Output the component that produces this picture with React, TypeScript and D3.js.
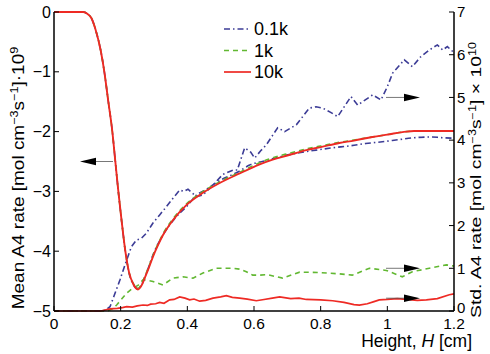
import React from "react";
import * as d3 from "d3";

// ---- data (x in cm) ----
const xTicks = [0, 0.2, 0.4, 0.6, 0.8, 1, 1.2];
const xTickLabels = ["0", "0.2", "0.4", "0.6", "0.8", "1", "1.2"];
const leftTicks = [0, -1, -2, -3, -4, -5];
const leftTickLabels = ["0", "\u22121", "\u22122", "\u22123", "\u22124", "\u22125"];
const rightTicks = [0, 1, 2, 3, 4, 5, 6, 7];
const rightTickLabels = ["0", "1", "2", "3", "4", "5", "6", "7"];
const legendLabels = ["0.1k", "1k", "10k"];

// Mean curves (left axis)
const meanRed: [number, number][] = [
  [0, 0], [0.05, 0], [0.088, 0], [0.1, -0.03], [0.112, -0.1], [0.125, -0.3], [0.14, -0.64],
  [0.151, -1.0], [0.163, -1.5], [0.175, -2.0], [0.184, -2.5], [0.193, -3.0], [0.203, -3.5],
  [0.214, -4.0], [0.225, -4.35], [0.237, -4.54], [0.252, -4.64], [0.262, -4.58], [0.272, -4.45],
  [0.285, -4.27], [0.297, -4.09], [0.312, -3.9], [0.327, -3.73], [0.357, -3.48], [0.397, -3.23],
  [0.437, -3.06], [0.497, -2.86], [0.557, -2.7], [0.617, -2.55], [0.656, -2.47], [0.7, -2.4],
  [0.757, -2.31], [0.8, -2.26], [0.856, -2.19], [0.9, -2.15], [0.955, -2.09], [1.0, -2.05],
  [1.057, -2.0], [1.08, -1.99], [1.2, -1.99],
];
const meanGreen: [number, number][] = [
  [0, 0], [0.05, 0], [0.088, 0], [0.1, -0.03], [0.112, -0.1], [0.125, -0.3], [0.14, -0.64],
  [0.151, -1.0], [0.163, -1.5], [0.175, -2.0], [0.184, -2.5], [0.193, -3.0], [0.203, -3.5],
  [0.214, -4.0], [0.225, -4.35], [0.237, -4.53], [0.252, -4.62], [0.262, -4.56], [0.272, -4.43],
  [0.285, -4.25], [0.297, -4.07], [0.312, -3.88], [0.327, -3.71], [0.357, -3.46], [0.397, -3.21],
  [0.437, -3.04], [0.497, -2.84], [0.557, -2.68], [0.617, -2.52], [0.656, -2.44], [0.7, -2.37],
  [0.757, -2.29], [0.8, -2.24], [0.856, -2.18], [0.9, -2.14], [0.955, -2.09], [1.0, -2.05],
  [1.057, -2.0], [1.08, -1.99], [1.2, -1.99],
];
const meanBlue: [number, number][] = [
  [0, 0], [0.05, 0], [0.088, 0], [0.1, -0.03], [0.112, -0.1], [0.125, -0.3], [0.14, -0.64],
  [0.151, -1.0], [0.163, -1.5], [0.175, -2.0], [0.184, -2.5], [0.193, -3.0], [0.203, -3.5],
  [0.214, -4.0], [0.225, -4.36], [0.237, -4.55], [0.252, -4.63], [0.262, -4.57], [0.275, -4.4],
  [0.3, -4.02], [0.33, -3.7], [0.36, -3.47], [0.4, -3.24], [0.43, -3.05], [0.45, -2.99],
  [0.497, -2.82], [0.55, -2.68], [0.587, -2.56], [0.64, -2.48], [0.686, -2.41], [0.74, -2.35],
  [0.786, -2.31], [0.836, -2.27], [0.886, -2.24], [0.935, -2.2], [0.985, -2.17], [1.04, -2.13],
  [1.086, -2.1], [1.135, -2.09], [1.16, -2.1], [1.2, -2.11],
];

// Std curves (right axis)
const stdBlue: [number, number][] = [
  [0, 0], [0.14, 0], [0.155, 0.02], [0.168, 0.1], [0.18, 0.35], [0.198, 0.73], [0.213, 1.08],
  [0.232, 1.5], [0.247, 1.66], [0.262, 1.7], [0.277, 1.82], [0.297, 2.06], [0.317, 2.25],
  [0.337, 2.44], [0.357, 2.64], [0.377, 2.83], [0.39, 2.8], [0.402, 2.85], [0.427, 2.68],
  [0.447, 2.72], [0.477, 2.95], [0.507, 3.2], [0.537, 3.3], [0.55, 3.3], [0.572, 3.82],
  [0.59, 3.72], [0.602, 3.58], [0.62, 3.75], [0.637, 3.89], [0.671, 4.29], [0.692, 4.2],
  [0.727, 4.36], [0.766, 4.75], [0.786, 4.78], [0.806, 4.75], [0.83, 4.65], [0.851, 4.55],
  [0.891, 5.02], [0.911, 4.82], [0.956, 5.06], [0.981, 4.94], [1.0, 5.25], [1.016, 5.57],
  [1.051, 5.88], [1.075, 5.72], [1.1, 5.95], [1.126, 6.11], [1.15, 6.23], [1.166, 6.11],
  [1.18, 6.19], [1.2, 6.05],
];
const stdGreen: [number, number][] = [
  [0, 0], [0.16, 0], [0.175, 0.05], [0.188, 0.14], [0.218, 0.42], [0.237, 0.54], [0.252, 0.6],
  [0.267, 0.73], [0.28, 0.72], [0.297, 0.69], [0.327, 0.61], [0.357, 0.77], [0.387, 0.8],
  [0.417, 0.77], [0.447, 0.89], [0.487, 1.0], [0.537, 1.0], [0.557, 0.98], [0.577, 0.92],
  [0.596, 0.84], [0.617, 0.84], [0.64, 0.85], [0.686, 0.77], [0.737, 0.91], [0.797, 0.9],
  [0.856, 0.87], [0.895, 0.84], [0.946, 1.0], [0.997, 0.95], [1.045, 0.8], [1.075, 0.92],
  [1.126, 1.0], [1.177, 1.08], [1.2, 1.05],
];
const stdRed: [number, number][] = [
  [0, 0], [0.14, 0], [0.168, 0.05], [0.19, 0.06], [0.205, 0.08], [0.218, 0.1], [0.235, 0.09],
  [0.25, 0.12], [0.267, 0.14], [0.28, 0.13], [0.29, 0.16], [0.305, 0.17], [0.317, 0.2],
  [0.33, 0.18], [0.347, 0.26], [0.36, 0.27], [0.377, 0.33], [0.393, 0.3], [0.407, 0.26],
  [0.42, 0.28], [0.437, 0.23], [0.455, 0.25], [0.477, 0.3], [0.5, 0.33], [0.517, 0.36],
  [0.535, 0.32], [0.557, 0.3], [0.58, 0.28], [0.607, 0.24], [0.63, 0.27], [0.655, 0.3],
  [0.677, 0.33], [0.71, 0.29], [0.735, 0.3], [0.757, 0.27], [0.8, 0.26], [0.836, 0.24],
  [0.87, 0.2], [0.9, 0.15], [0.916, 0.14], [0.94, 0.17], [0.96, 0.22], [0.976, 0.26],
  [1.0, 0.27], [1.03, 0.29], [1.057, 0.27], [1.09, 0.25], [1.117, 0.26], [1.15, 0.29],
  [1.186, 0.38], [1.2, 0.4],
];

const W = 490;
const H = 354;
const left = 54;
const right = 454;
const top = 12;
const bottom = 311;

const FONT = "'Liberation Sans', Arial, Helvetica, sans-serif";
const RED = "#ee2a24";
const GREEN = "#62b832";
const BLUE = "#3c3c96";

export default function App() {
  const x = d3.scaleLinear().domain([0, 1.2]).range([left, right]);
  const yL = d3.scaleLinear().domain([-5, 0]).range([bottom, top]);
  const yR = d3.scaleLinear().domain([0, 7]).range([bottom, top]);

  const smoothL = d3
    .line<[number, number]>()
    .x((d) => x(d[0]))
    .y((d) => yL(d[1]))
    .curve(d3.curveMonotoneX);
  const rawR = d3
    .line<[number, number]>()
    .x((d) => x(d[0]))
    .y((d) => yR(d[1]));

  const blueDash = "6,3,1.5,3";
  const greenDash = "5,4";

  const arrowsR = [5, 1, 0.3];

  return (
    <svg
      width={W}
      height={H}
      style={{ position: "absolute", left: 0, top: 0, background: "#fff" }}
      fontFamily={FONT}
    >
      {/* std curves */}
      <path d={rawR(stdBlue) || ""} fill="none" stroke={BLUE} strokeWidth={1.6} strokeDasharray={blueDash} />
      <path d={rawR(stdGreen) || ""} fill="none" stroke={GREEN} strokeWidth={1.6} strokeDasharray={greenDash} />
      <path d={rawR(stdRed) || ""} fill="none" stroke={RED} strokeWidth={1.7} />
      {/* mean curves */}
      <path d={smoothL(meanBlue) || ""} fill="none" stroke={BLUE} strokeWidth={1.6} strokeDasharray={blueDash} />
      <path d={smoothL(meanGreen) || ""} fill="none" stroke={GREEN} strokeWidth={1.6} strokeDasharray={greenDash} />
      <path d={smoothL(meanRed) || ""} fill="none" stroke={RED} strokeWidth={1.9} />

      {/* axes */}
      <line x1={left} x2={left} y1={top} y2={bottom} stroke="#000" strokeWidth={1.5} />
      <line x1={right} x2={right} y1={top} y2={bottom} stroke="#000" strokeWidth={1.5} />
      <line x1={left} x2={right} y1={bottom} y2={bottom} stroke="#000" strokeWidth={1.5} />

      {leftTicks.map((t, i) => (
        <g key={"l" + i}>
          <line x1={left} x2={left + 5} y1={yL(t)} y2={yL(t)} stroke="#000" strokeWidth={1} />
          <text x={left - 3} y={yL(t)} dy="0.35em" textAnchor="end" fontSize={16}>
            {leftTickLabels[i]}
          </text>
        </g>
      ))}
      {rightTicks.map((t, i) => (
        <g key={"r" + i}>
          <line x1={right} x2={right - 5} y1={yR(t)} y2={yR(t)} stroke="#000" strokeWidth={1} />
          <text x={right + 3} y={yR(t) - (t === 0 ? 3 : 0)} dy="0.35em" textAnchor="start" fontSize={15}>
            {rightTickLabels[i]}
          </text>
        </g>
      ))}
      {xTicks.map((t, i) => (
        <g key={"x" + i}>
          <line x1={x(t)} x2={x(t)} y1={bottom} y2={bottom - 5} stroke="#000" strokeWidth={1} />
          <text x={x(t)} y={329} textAnchor="middle" fontSize={15.5}>
            {xTickLabels[i]}
          </text>
        </g>
      ))}

      {/* axis labels */}
      <text x={472} y={347} textAnchor="end" fontSize={17.5}>
        Height, <tspan fontStyle="italic">H</tspan> [cm]
      </text>
      <text transform={`translate(24,${178}) rotate(-90) scale(1.15,1)`} textAnchor="middle" fontSize={16.5}>
        Mean A4 rate [mol cm<tspan dy={-6} fontSize={11}>{"\u22123"}</tspan>
        <tspan dy={6}>s</tspan>
        <tspan dy={-6} fontSize={11}>{"\u22121"}</tspan>
        <tspan dy={6}>]·10</tspan>
        <tspan dy={-6} fontSize={11}>9</tspan>
      </text>
      <text transform={`translate(480.5,${180}) rotate(-90) scale(1.26,1)`} textAnchor="middle" fontSize={15.4}>
        Std. A4 rate [mol cm<tspan dy={-5} fontSize={10}>{"\u22123"}</tspan>
        <tspan dy={5}>s</tspan>
        <tspan dy={-5} fontSize={10}>{"\u22121"}</tspan>
        <tspan dy={5}>] × 10</tspan>
        <tspan dy={-5} fontSize={10}>10</tspan>
      </text>

      {/* legend */}
      {legendLabels.map((lab, i) => {
        const ly = 29 + i * 21.5;
        const stroke = i === 0 ? BLUE : i === 1 ? GREEN : RED;
        const dash = i === 0 ? blueDash : i === 1 ? greenDash : undefined;
        return (
          <g key={"lg" + i}>
            <line x1={224} x2={251} y1={ly} y2={ly} stroke={stroke} strokeWidth={1.7} strokeDasharray={dash} />
            <text x={254} y={ly} dy="0.35em" fontSize={18}>
              {lab}
            </text>
          </g>
        );
      })}

      {/* arrows */}
      <line x1={113} x2={94} y1={yL(-2.5)} y2={yL(-2.5)} stroke="#555" strokeWidth={0.8} />
      <path
        d={`M${80},${yL(-2.5)} L${96},${yL(-2.5) - 3.8} L${96},${yL(-2.5) + 3.8} Z`}
        fill="#000"
      />
      {arrowsR.map((v, i) => (
        <g key={"ar" + i}>
          <line x1={386} x2={406} y1={yR(v)} y2={yR(v)} stroke="#555" strokeWidth={0.8} />
          <path d={`M${420},${yR(v)} L${404},${yR(v) - 3.8} L${404},${yR(v) + 3.8} Z`} fill="#000" />
        </g>
      ))}
    </svg>
  );
}
